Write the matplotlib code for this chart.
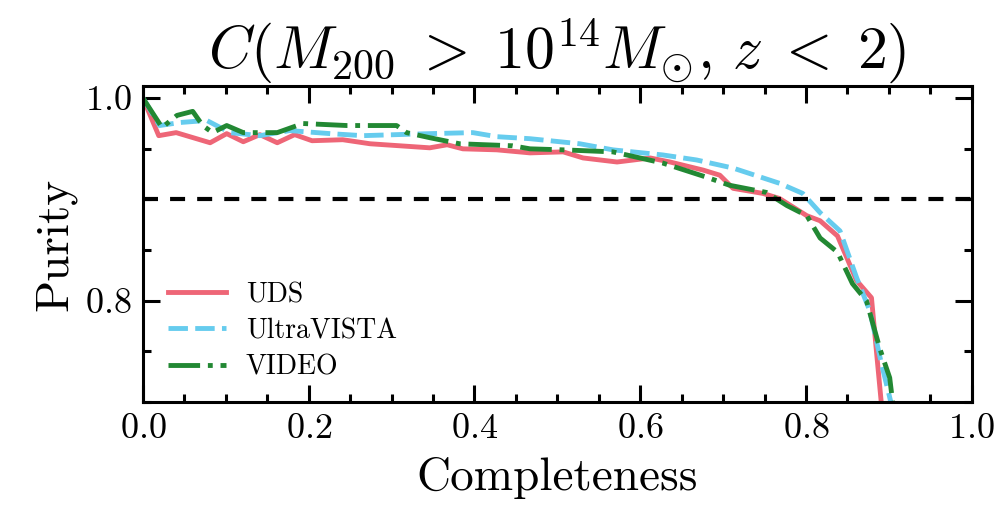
import matplotlib
matplotlib.use("Agg")
import matplotlib.pyplot as plt
from matplotlib.ticker import MultipleLocator

plt.rcParams['font.family'] = 'serif'
plt.rcParams['font.serif'] = ['cmr10']
plt.rcParams['mathtext.fontset'] = 'cm'
plt.rcParams['axes.formatter.use_mathtext'] = True

# completeness / purity
uds_c = [0.0, 0.019, 0.04, 0.081, 0.101, 0.121, 0.141, 0.162, 0.183, 0.204, 0.241, 0.274, 0.346,
         0.367, 0.386, 0.427, 0.467, 0.507, 0.531, 0.572, 0.612, 0.636, 0.676, 0.696, 0.712,
         0.748, 0.768, 0.801, 0.817, 0.838, 0.849, 0.861, 0.879, 0.885, 0.891]
uds_p = [1.0, 0.963, 0.966, 0.956, 0.965, 0.957, 0.964, 0.956, 0.964, 0.958, 0.959, 0.955, 0.951,
         0.954, 0.950, 0.949, 0.946, 0.947, 0.941, 0.937, 0.941, 0.937, 0.929, 0.924, 0.911,
         0.906, 0.901, 0.884, 0.879, 0.864, 0.843, 0.820, 0.803, 0.750, 0.698]

uvista_c = [0.0, 0.02, 0.045, 0.077, 0.105, 0.141, 0.177, 0.226, 0.265, 0.346, 0.398, 0.427,
            0.467, 0.527, 0.567, 0.627, 0.668, 0.712, 0.768, 0.796, 0.817, 0.841, 0.861,
            0.877, 0.891, 0.903]
uvista_p = [1.0, 0.973, 0.976, 0.978, 0.966, 0.963, 0.968, 0.965, 0.963, 0.965, 0.966, 0.962,
            0.960, 0.955, 0.949, 0.944, 0.939, 0.931, 0.916, 0.906, 0.887, 0.869, 0.823,
            0.790, 0.738, 0.698]

video_c = [0.0, 0.023, 0.041, 0.06, 0.072, 0.084, 0.101, 0.121, 0.162, 0.193, 0.246, 0.306,
           0.318, 0.346, 0.382, 0.446, 0.467, 0.507, 0.567, 0.627, 0.68, 0.708, 0.752, 0.777,
           0.801, 0.817, 0.838, 0.856, 0.873, 0.889, 0.901, 0.906]
video_p = [1.0, 0.971, 0.983, 0.987, 0.973, 0.966, 0.973, 0.966, 0.966, 0.975, 0.973, 0.973,
           0.966, 0.961, 0.955, 0.953, 0.950, 0.949, 0.947, 0.936, 0.922, 0.914, 0.907, 0.894,
           0.884, 0.862, 0.848, 0.817, 0.800, 0.753, 0.724, 0.69]

fig = plt.figure(figsize=(10.07, 5.09), dpi=100)
ax = fig.add_axes([0.142, 0.21, 0.823, 0.621])

ax.plot(uds_c, uds_p, color='#EE6677', lw=3.5, label='UDS')
ax.plot(uvista_c, uvista_p, color='#66CCEE', lw=3.5, ls=(0, (4, 1.5)), label='UltraVISTA')
ax.plot(video_c, video_p, color='#228833', lw=3.5, ls=(0, (6.5, 1.6, 1, 1.6)), label='VIDEO')
ax.axhline(0.9, color='k', lw=3, ls=(0, (3.6, 2.9)))

ax.set_xlim(0, 1)
ax.set_ylim(0.7, 1.012)
ax.xaxis.set_major_locator(MultipleLocator(0.2))
ax.xaxis.set_minor_locator(MultipleLocator(0.05))
ax.yaxis.set_major_locator(MultipleLocator(0.2))
ax.yaxis.set_minor_locator(MultipleLocator(0.05))
ax.tick_params(which='both', direction='in', top=True, right=True, width=2.2, labelsize=26, pad=8)
ax.tick_params(which='major', length=12)
ax.tick_params(which='minor', length=6)
for s in ax.spines.values():
    s.set_linewidth(2.2)

ax.set_xlabel('Completeness', fontsize=34, labelpad=9)
ax.set_ylabel('Purity', fontsize=34, labelpad=6)
ax.set_title(r'$C(M_{200}\;>\;10^{14} M_{\odot},\, z\;<\;2)$', fontsize=43, pad=6)
ax.legend(loc='lower left', frameon=False, fontsize=20, handlelength=2.1, handletextpad=0.7,
          bbox_to_anchor=(0.0, -0.01), labelspacing=0.35)

fig.savefig('out.png', dpi=100)
